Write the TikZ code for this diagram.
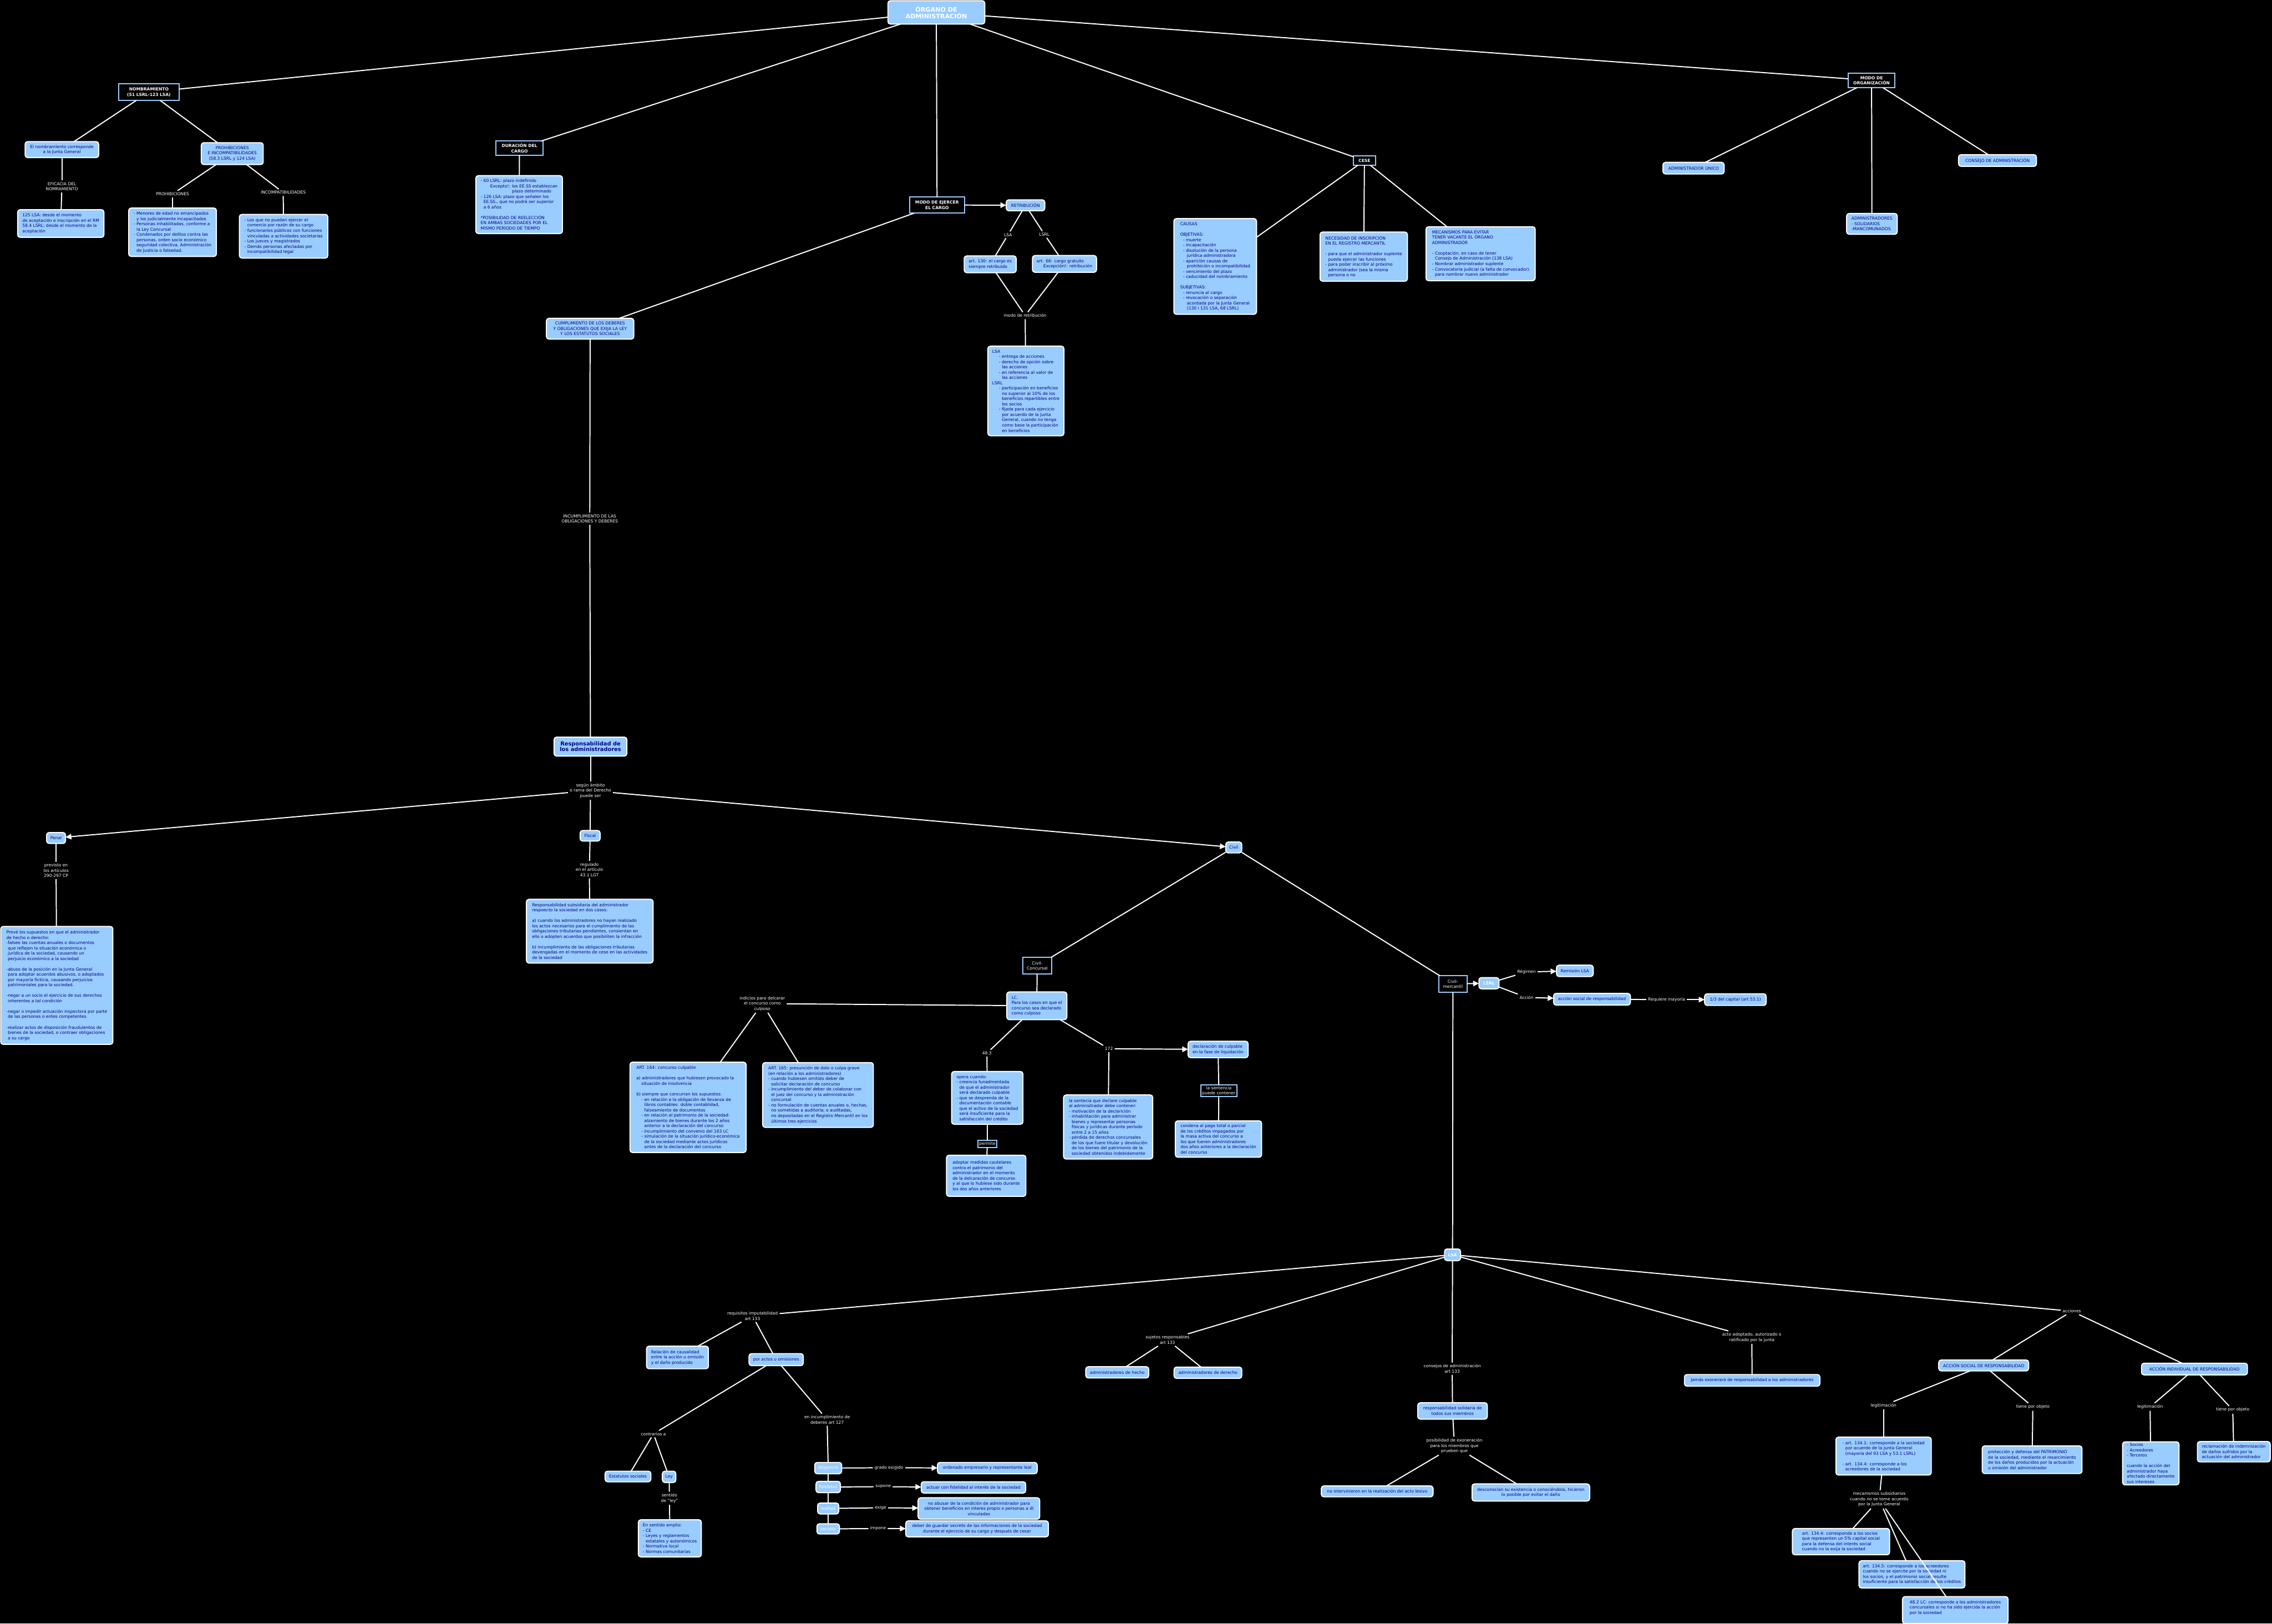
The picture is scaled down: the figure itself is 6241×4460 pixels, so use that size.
\documentclass[tikz,border=0pt]{standalone}
\usepackage{fontspec}
\setmainfont{DejaVu Sans}
\usetikzlibrary{arrows.meta}
\definecolor{lb}{RGB}{153,204,255}
\definecolor{nv}{RGB}{0,0,128}
\newcommand\tx{\fontsize{11.5}{14.5}\selectfont}
\newcommand\hh{\hspace*{0.68em}}
\newcommand\hq{\hspace*{1.6em}}
\newcommand\hqq{\hspace*{2.3em}}
\tikzset{
  every node/.style={inner sep=4pt, outer sep=0pt},
  bb/.style={draw=white, line width=3pt, fill=lb, rounded corners=7pt, text=nv, align=left, font=\tx},
  bbc/.style={bb, align=center},
  bbw/.style={bb, align=center, text=white},
  hd/.style={draw=lb, line width=3pt, fill=black, text=white, align=center, font=\tx\bfseries},
  hdn/.style={hd, font=\tx},
  lab/.style={text=white, align=center, fill=black, inner sep=5pt, font=\tx},
  con/.style={draw=white, line width=3pt},
  arr/.style={con, -{Triangle[length=16pt,width=15pt]}},
  rootbox/.style={bb, align=center, text=white, font=\fontsize{17}{19}\selectfont\bfseries},
}
\newcommand\bx[6]{\node[#1, minimum width=#4, minimum height=#5] (#2) at #3 {#6};}
\begin{document}
\begin{tikzpicture}[x=1pt,y=-1pt]
\path[use as bounding box, fill=black] (0,0) rectangle (6241,4460);

% ---------- top ----------
\bx{rootbox}{root}{(2572,34)}{266}{64}{ÓRGANO DE\\ADMINISTRACIÓN}
\bx{hd}{nomb}{(409,253)}{166}{45}{NOMBRAMIENTO\\(51 LSRL-123 LSA)}
\bx{bbc}{nombJG}{(170,411)}{202}{44}{El nombramiento corresponde\\a la Junta General}
\bx{bbc}{prohinc}{(638,422)}{170}{60}{PROHIBICIONES\\E INCOMPATIBILIDADES\\(58.3 LSRL y 124 LSA)}
\node[lab] (lEfic) at (170,512) {EFICACIA DEL\\NOMRAMIENTO};
\bx{bb}{efic}{(167,614)}{237}{76}{125 LSA: desde el momento\\de aceptación e inscripción en el RM\\58.4 LSRL: desde el momento de la\\aceptación}
\node[lab] (lProh) at (474,533) {PROHIBICIONES};
\node[lab] (lInc) at (778,529) {INCOMPATIBILIDADES};
\bx{bb}{proh}{(474,638)}{241}{133}{- Menores de edad no emancipados\\\hh y los judicialmente incapacitados\\- Personas inhabilitadas, conforme a\\\hh la Ley Concursal\\- Condenados por delitos contra las\\\hh personas, orden socio económico\\\hh seguridad colectiva, Administración\\\hh de Justicia o falsedad.}
\bx{bb}{inc}{(779,649)}{243}{120}{- Los que no puedan ejercer el\\\hh comercio por razón de su cargo\\- funcionarios públicos con funciones\\\hh vinculadas a actividades societarias\\- Los jueces y magistrados\\- Demás personas afectadas por\\\hh incompatibilidad legal}

\bx{hd}{dur}{(1427,407)}{130}{39}{DURACIÓN DEL\\CARGO}
\bx{bb}{durbox}{(1426,562)}{238}{159}{- 60 LSRL: plazo indefinido\\\hqq Excepto!: los EE.SS establezcan\\\hspace*{7.5em}plazo determinado\\- 126 LSA: plazo que señalen los\\\hh EE.SS., que no podrá ser superior\\\hh a 6 años\\[14.5pt]*POSIBILIDAD DE REELECCIÓN\\EN AMBAS SOCIEDADES POR EL\\MISMO PERÍODO DE TIEMPO}
\bx{bbc}{cump}{(1621,903)}{240}{57}{CUMPLIMIENTO DE LOS DEBERES\\Y OBLIGACIONES QUE EXIJA LA LEY\\Y LOS ESTATUTOS SOCIALES}
\node[lab] (lIncump) at (1620,1425) {INCUMPLIMIENTO DE LAS\\OBLIGACIONES Y DEBERES};

\bx{hd}{modo}{(2574,563)}{151}{45}{MODO DE EJERCER\\EL CARGO}
\bx{bbc}{retr}{(2817,564)}{106}{30}{RETRIBUCIÓN}
\node[lab] (lLSA) at (2769,645) {LSA};
\node[lab] (lLSRL) at (2869,644) {LSRL};
\bx{bb}{a130}{(2720,726)}{143}{46}{art. 130: el cargo es\\siempre retribuido}
\bx{bb}{a66}{(2924,725)}{176}{46}{art. 66: cargo gratuito\\\hq Excepción!: retribución}
\node[lab] (lModoR) at (2816,867) {modo de retribución};
\bx{bb}{modobox}{(2818,1074)}{209}{246}{LSA\\\hq - entrega de acciones\\\hq - derecho de opción sobre\\\hqq las acciones\\\hq - en referencia al valor de\\\hqq las acciones\\LSRL\\\hq - participación en beneficios\\\hqq no superior al 10\% de los\\\hqq beneficios repartibles entre\\\hqq los socios\\\hq - fijada para cada ejercicio\\\hqq por acuerdo de la Junta\\\hqq General, cuando no tenga\\\hqq como base la participación\\\hqq en beneficios}

\bx{hd}{cese}{(3748,441)}{60}{26}{CESE}
\bx{bb}{causas}{(3338,732)}{227}{263}{CAUSAS\\[14.5pt]OBJETIVAS:\\\hh - muerte\\\hh - incapacitación\\\hh - disolución de la persona\\\hq jurídica administradora\\\hh - aparición causas de\\\hq prohibición o incompatibilidad\\\hh - vencimiento del plazo\\\hh - caducidad del nombramiento\\[14.5pt]SUBJETIVAS:\\\hh - renuncia al cargo\\\hh - revocación o separación\\\hq acordada por la Junta General\\\hq (130 i 131 LSA, 68 LSRL)}
\bx{bb}{neces}{(3746,705)}{240}{135}{NECESIDAD DE INSCRIPCIÓN\\EN EL REGISTRO MERCANTIL\\[14.5pt]- para que el administrador suplente\\\hh pueda ejercer las funciones\\- para poder inscribir al próximo\\\hh administrador (sea la misma\\\hh persona o no}
\bx{bb}{mecan}{(4067,697)}{300}{148}{MECANISMOS PARA EVITAR\\TENER VACANTE EL ÓRGANO\\ADMINISTRADOR\\[14.5pt]- Cooptación, en caso de tener\\\hh Consejo de Administración (138 LSA)\\- Nombrar administrador suplente\\- Convocatoria judicial (a falta de convocador)\\\hh para nombrar nuevo administrador}

\bx{hd}{morg}{(5141,221)}{129}{40}{MODO DE\\ORGANIZACIÓN}
\bx{bbc}{aunico}{(4652,462)}{168}{32}{ADMINISTRADOR ÚNICO}
\bx{bb}{asol}{(5142,615)}{139}{57}{ADMINISTRADORES\\- SOLIDARIOS\\-MANCOMUNADOS}
\bx{bbc}{consejo}{(5487,441)}{214}{32}{CONSEJO DE ADMINISTRACIÓN}

% ---------- responsabilidad ----------
\bx{bbc}{resp}{(1622,2051)}{200}{52}{\fontsize{15}{18}\selectfont\bfseries Responsabilidad de\\\fontsize{15}{18}\selectfont\bfseries los administradores}
\node[lab] (lSegun) at (1622,2172) {según àmbito\\o rama del Derecho\\puede ser};
\bx{bbc}{penal}{(154,2302)}{52}{30}{Penal}
\node[lab] (lPrev) at (154,2391) {previsto en\\los artículos\\290-297 CP};
\bx{bb}{penalbox}{(156,2707)}{308}{324}{Prevé los supuestos en que el administrador\\de hecho o derecho:\\-falsee las cuentas anuales o documentos\\\hspace*{0.35em}que reflejen la situación económica o\\\hspace*{0.35em}jurídica de la sociedad, causando un\\\hspace*{0.35em}perjuicio económico a la sociedad\\[14.5pt]-abuso de la posición en la Junta General\\\hspace*{0.35em}para adoptar acuerdos abusivos, o adoptados\\\hspace*{0.35em}por mayoría fictícia, causando perjuicios\\\hspace*{0.35em}patrimoniales para la sociedad.\\[14.5pt]-negar a un socio el ejercicio de sus derechos\\\hspace*{0.35em}inherentes a tal condición\\[14.5pt]-negar o impedir actuación inspectora por parte\\\hspace*{0.35em}de las personas o entes competentes\\[14.5pt]-realizar actos de disposición fraudulentos de\\\hspace*{0.35em}bienes de la sociedad, o contraer obligaciones\\\hspace*{0.35em}a su cargo}
\bx{bbc}{fiscal}{(1621,2296)}{55}{29}{Fiscal}
\node[lab] (lReg) at (1619,2389) {regulado\\en el artículo\\43.1 LGT};
\bx{bb}{fiscalbox}{(1620,2558)}{348}{175}{Responsabilidad subsidiaria del administrador\\respoecto la sociedad en dos casos:\\[14.5pt]a) cuando los administradores no hayan realizado\\los actos necesarios para el cumplimiento de las\\obligaciones tributarias pendientes, consientan en\\ello o adopten acuerdos que posibiliten la infracción\\[14.5pt]b) incumplimiento de las obligaciones tributarias\\devengadas en el momento de cese en las actividades\\de la sociedad}
\bx{bbc}{civil}{(3389,2328)}{44}{30}{Civil}

% ---------- civil concursal ----------
\bx{hdn}{cconc}{(2849,2653)}{79}{46}{Civil-\\Concursal}
\bx{bb}{lc}{(2848,2763)}{165}{76}{LC.\\Para los casos en que el\\concurso sea declarado\\como culposo}
\node[lab] (lIndic) at (2094,2757) {indicios para delcarar\\el concurso como\\culposo};
\bx{bb}{a164}{(1890,3042)}{319}{248}{ART. 164: concurso culpable\\[14.5pt]a) administradores que hubiesen provocado la\\\hspace*{1.2em}situación de insolvencia\\[14.5pt]b) siempre que concurran los supuestos:\\\hspace*{1.2em}- en relación a la obligación de llevanza de\\\hspace*{1.9em}libros contables: doble contablidad,\\\hspace*{1.9em}falseamiento de documentos\\\hspace*{1.2em}- en relación al patrimonio de la sociedad:\\\hspace*{1.9em}alzamiento de bienes durante los 2 años\\\hspace*{1.9em}anterior a la declaración del concurso\\\hspace*{1.2em}- incumplimiento del convenio del 163 LC\\\hspace*{1.2em}- simulación de la situación jurídico-económica\\\hspace*{1.9em}de la sociedad mediante actos jurídicos\\\hspace*{1.9em}antes de la declaración del concurso}
\bx{bb}{a165}{(2247,3008)}{304}{178}{ART. 165: presunción de dolo o culpa grave\\(en relación a los administradores)\\- cuando hubiesen omitido deber de\\\hh solicitar declaración de concurso\\- incumplimiento del deber de colaborar con\\\hh el juez del concurso y la administración\\\hh concursal\\- no formulación de cuentas anuales o, hechas,\\\hh no sometidas a auditoría; o auditadas,\\\hh no depositadas en el Registro Mercantil en los\\\hh últimos tres ejercicios}
\node[lab] (l483) at (2711,2893) {48.3};
\node[lab] (l172) at (3046,2881) {172};
\bx{bb}{opera}{(2712,3016)}{196}{145}{opera cuando:\\- creencia funadmentada\\\hh de que el administrador\\\hh será declarado culpable\\- que se desprenda de la\\\hh documentación contable\\\hh que el activo de la sociedad\\\hh será insuficiente para la\\\hh satisfacción del crédito}
\node[hdn, inner sep=1pt, minimum width=52, minimum height=20] (permite) at (2712,3143) {permite};
\bx{bb}{adoptar}{(2709,3230)}{218}{113}{adoptar medidas cautelares\\contra el patrimonio del\\administrador en el momento\\de la delcaración de concurso\\y al que lo hubiese sido durante\\los dos años anteriores}
\bx{bb}{declc}{(3346,2883)}{165}{45}{declaración de culpable\\en la fase de liquidación}
\bx{bb}{sentec}{(3044,3096)}{245}{176}{la sentecia que declare culpable\\al adminsitrador debe contener:\\- motivación de la declarición\\- inhabilitación para administrar\\\hh bienes y representar personas\\\hh físicas y jurídicas durante período\\\hh entre 2 a 15 años\\- pérdida de derechos concursales\\\hh de los que fuere titular y devolución\\\hh de los bienes del patrimonio de la\\\hh sociedad obtenidos indebidamente}
\node[hdn, inner sep=1pt, minimum width=99, minimum height=32] (lsent) at (3348,2997) {la sentencia\\puede contener};
\bx{bb}{condena}{(3347,3129)}{237}{100}{condena al pago total o parcial\\de los créditos impagados por\\la masa activa del concurso a\\los que fueren administradores\\dos años anteriores a la declaración\\del concurso}

% ---------- civil mercantil ----------
\bx{hdn}{cmerc}{(3991,2703)}{78}{45}{Civil-\\mercantil}
\node[bbw, font=\tx\bfseries, minimum width=55, minimum height=31] (lsrl) at (4090,2701) {LSRL};
\node[lab] (lRegimen) at (4193,2670) {Régimen};
\bx{bbc}{remis}{(4326,2667)}{101}{31}{Remisión LSA}
\node[lab] (lAccion) at (4193,2740) {Acción};
\bx{bbc}{asr}{(4373,2745)}{211}{32}{acción social de responsabilidad}
\node[lab] (lReq) at (4578,2746) {Requiere mayoría};
\bx{bbc}{tercio}{(4767,2746)}{169}{32}{1/3 del capital (art 53.1)}

\node[bbw, font=\tx\bfseries, minimum width=44, minimum height=32] (lsa) at (3990,3447) {LSA};

\node[lab] (lReqImp) at (2067,3615) {requisitos imputabilidad\\art 133};
\bx{bb}{relac}{(1861,3729)}{170}{62}{Relación de causalidad\\entre la acción u omisión\\y el daño producido}
\bx{bbc}{poractos}{(2132,3735)}{149}{33}{por actos u omisiones}
\node[lab] (lIncump2) at (2272,3900) {en incumplimiento de\\deberes art 127};
\node[lab] (lContr) at (1795,3939) {contrarios a};
\bx{bbc}{estat}{(1725,4056)}{126}{29}{Estatutos sociales}
\bx{bbc}{ley}{(1838,4057)}{37}{31}{Ley}
\node[lab] (lSent) at (1839,4116) {sentido\\de "ley"};
\bx{bb}{amplio}{(1840,4226)}{173}{102}{En sentido amplio:\\- CE\\- Leyes y reglamentos\\\hh estatales y autonómicos\\- Normativa local\\- Normas comunitarias}
\bx{bbw}{dilig}{(2275,4033)}{74}{31}{diligencia}
\bx{bbw}{fidel}{(2275,4085)}{67}{31}{fidelidad}
\bx{bbw}{leal}{(2275,4144)}{58}{30}{lealtad}
\bx{bbw}{secr}{(2275,4200)}{62}{28}{secreto}
\node[lab] (lGrado) at (2442,4032) {grado exigido};
\bx{bbc}{orden}{(2712,4033)}{274}{31}{ordenado empresario y representante leal}
\node[lab] (lSupone) at (2426,4084) {supone};
\bx{bbc}{actuar}{(2674,4086)}{287}{31}{actuar con fidelidad al interés de la sociedad}
\node[lab] (lExige) at (2419,4142) {exige};
\bx{bbc}{noabus}{(2689,4144)}{334}{59}{no abusar de la condición de administrador para\\obtener beneficios en interes propio o personas a él\\vinculadas}
\node[lab] (lImpone) at (2412,4199) {impone};
\bx{bbc}{guardar}{(2684,4200)}{392}{44}{deber de guardar secreto de las informaciones de la sociedad\\durante el ejercicio de su cargo y después de cesar}

\node[lab] (lSujetos) at (3207,3681) {sujetos responsables\\art 133};
\bx{bbc}{ahecho}{(3069,3770)}{173}{31}{administradores de hecho}
\bx{bbc}{aderecho}{(3318,3771)}{186}{31}{administradores de derecho}
\node[lab] (lConsejos) at (3989,3760) {consejos de administración\\art 133};
\bx{bbc}{rsolid}{(3990,3876)}{191}{45}{responsabilidad solidaria de\\todos sus miembros}
\node[lab] (lPosib) at (3995,3972) {posibilidad de exoneración\\para los miembros que\\prueben que};
\bx{bbc}{nointerv}{(3783,4097)}{307}{30}{no intervinieron en la realización del acto lesivo}
\bx{bbc}{descon}{(4205,4100)}{323}{47}{desconocían su existencia o conociéndola, hicieron\\lo posible por evitar el daño}
\node[lab] (lActo) at (4812,3674) {acto adoptado, autorizado o\\ratificado por la junta};
\bx{bbc}{jamas}{(4813,3792)}{372}{32}{Jamás exonerará de responsabilidad a los administradores}

\node[lab] (lAcciones) at (5691,3602) {acciones};
\bx{bbc}{asoc}{(5449,3751)}{247}{30}{ACCIÓN SOCIAL DE RESPONSABILIDAD}
\bx{bbc}{aind}{(6028,3761)}{291}{32}{ACCIÓN INDIVIDUAL DE RESPONSABILIDAD}
\node[lab] (lLeg1) at (5174,3861) {legitimación};
\node[lab] (lObj1) at (5584,3865) {tiene por objeto};
\node[lab] (lLeg2) at (5906,3865) {legitimación};
\node[lab] (lObj2) at (6133,3873) {tiene por objeto};
\bx{bb}{leg1box}{(5174,4000)}{262}{104}{- art. 134.1: corresponde a la sociedad\\\hh por acuerdo de la Junta General\\\hh (mayoría del 93 LSA y 53.1 LSRL)\\[14.5pt]- art. 134.4: corresponde a los\\\hh acreedores de la sociedad}
\bx{bb}{prot}{(5582,4010)}{274}{76}{protección y defensa del PATRIMONIO\\de la sociedad, mediante el resarcimiento\\de los daños producidos por la actuación\\u omisión del administrador}
\bx{bb}{socios}{(5908,4020)}{155}{112}{- Socios\\- Acreedores\\- Terceros\\[14.5pt]cuando la acción del\\administrador haya\\afectado directamente\\sus intereses}
\bx{bb}{reclam}{(6136,3988)}{200}{56}{reclamación de indemnización\\de daños sufridos por la\\actuación del administrador}
\node[lab] (lMecan) at (5162,4119) {mecanismos subsidiarios\\cuando no se tome acuerdo\\por la Junta General};
\bx{bb}{m1}{(5057,4235)}{267}{72}{art. 134.4: corresponde a los socios\\que representen un 5\% capital social\\para la defensa del interés social\\cuando no la exija la sociedad}
\bx{bb}{m2}{(5252,4325)}{291}{75}{art. 134.5: corresponde a los acreedores\\cuando no se ejercite por la sociedad ni\\los socios, y el patrimonio social resulte\\insuficiente para la satisfacción de los créditos}
\bx{bb}{m3}{(5371,4423)}{290}{74}{48.2 LC: corresponde a los administradores\\concursales si no ha sido ejercida la acción\\por la sociedad\\}

% ---------- connectors ----------
\foreach \t in {nomb,dur,modo,cese,morg} \draw[con] (root) -- (\t);
\draw[con] (nomb) -- (nombJG);
\draw[con] (nomb) -- (prohinc);
\draw[con] (nombJG) -- (lEfic); \draw[con] (lEfic) -- (efic);
\draw[con] (prohinc) -- (lProh); \draw[con] (lProh) -- (proh);
\draw[con] (prohinc) -- (lInc); \draw[con] (lInc) -- (inc);
\draw[con] (dur) -- (durbox);
\draw[con] (modo) -- (cump);
\draw[arr] (modo) -- (retr);
\draw[con] (retr) -- (lLSA); \draw[con] (lLSA) -- (a130);
\draw[con] (retr) -- (lLSRL); \draw[con] (lLSRL) -- (a66);
\draw[con] (a130) -- (lModoR); \draw[con] (a66) -- (lModoR); \draw[con] (lModoR) -- (modobox);
\foreach \t in {causas,neces,mecan} \draw[con] (cese) -- (\t);
\foreach \t in {aunico,asol,consejo} \draw[con] (morg) -- (\t);
\draw[con] (cump) -- (lIncump); \draw[con] (lIncump) -- (resp);
\draw[con] (resp) -- (lSegun);
\draw[arr] (lSegun) -- (penal);
\draw[con] (lSegun) -- (fiscal);
\draw[arr] (lSegun) -- (civil);
\draw[con] (penal) -- (lPrev); \draw[con] (lPrev) -- (penalbox);
\draw[con] (fiscal) -- (lReg); \draw[con] (lReg) -- (fiscalbox);
\draw[con] (civil) -- (cconc);
\draw[con] (civil) -- (cmerc);
\draw[con] (cconc) -- (lc);
\draw[con] (lc) -- (lIndic);
\draw[con] (lIndic) -- (a164); \draw[con] (lIndic) -- (a165);
\draw[con] (lc) -- (l483); \draw[con] (l483) -- (opera); \draw[con] (opera) -- (permite); \draw[con] (permite) -- (adoptar);
\draw[con] (lc) -- (l172); \draw[arr] (l172) -- (declc); \draw[con] (l172) -- (sentec);
\draw[con] (declc) -- (lsent); \draw[con] (lsent) -- (condena);
\draw[arr] (cmerc) -- (lsrl);
\draw[con] (lsrl) -- (lRegimen); \draw[arr] (lRegimen) -- (remis);
\draw[con] (lsrl) -- (lAccion); \draw[arr] (lAccion) -- (asr);
\draw[con] (asr) -- (lReq); \draw[arr] (lReq) -- (tercio);
\draw[con] (cmerc) -- (lsa);
\draw[con] (lsa) -- (lReqImp);
\draw[con] (lReqImp) -- (relac); \draw[con] (lReqImp) -- (poractos);
\draw[con] (poractos) -- (lContr); \draw[con] (poractos) -- (lIncump2);
\draw[con] (lContr) -- (estat); \draw[con] (lContr) -- (ley);
\draw[con] (ley) -- (lSent); \draw[con] (lSent) -- (amplio);
\draw[con] (lIncump2) -- (dilig);
\draw[con] (dilig) -- (fidel); \draw[con] (fidel) -- (leal); \draw[con] (leal) -- (secr);
\draw[con] (dilig) -- (lGrado); \draw[arr] (lGrado) -- (orden);
\draw[con] (fidel) -- (lSupone); \draw[arr] (lSupone) -- (actuar);
\draw[con] (leal) -- (lExige); \draw[arr] (lExige) -- (noabus);
\draw[con] (secr) -- (lImpone); \draw[arr] (lImpone) -- (guardar);
\draw[con] (lsa) -- (lSujetos);
\draw[con] (lSujetos) -- (ahecho); \draw[con] (lSujetos) -- (aderecho);
\draw[con] (lsa) -- (lConsejos); \draw[con] (lConsejos) -- (rsolid); \draw[con] (rsolid) -- (lPosib);
\draw[con] (lPosib) -- (nointerv); \draw[con] (lPosib) -- (descon);
\draw[con] (lsa) -- (lActo); \draw[con] (lActo) -- (jamas);
\draw[con] (lsa) -- (lAcciones);
\draw[con] (lAcciones) -- (asoc); \draw[con] (lAcciones) -- (aind);
\draw[con] (asoc) -- (lLeg1); \draw[con] (lLeg1) -- (leg1box); \draw[con] (leg1box) -- (lMecan);
\draw[con] (lMecan) -- (m1); \draw[con] (lMecan) -- (m2); \draw[con] (lMecan) -- (m3);
\draw[con] (asoc) -- (lObj1); \draw[con] (lObj1) -- (prot);
\draw[con] (aind) -- (lLeg2); \draw[con] (lLeg2) -- (socios);
\draw[con] (aind) -- (lObj2); \draw[con] (lObj2) -- (reclam);
\end{tikzpicture}
\end{document}
